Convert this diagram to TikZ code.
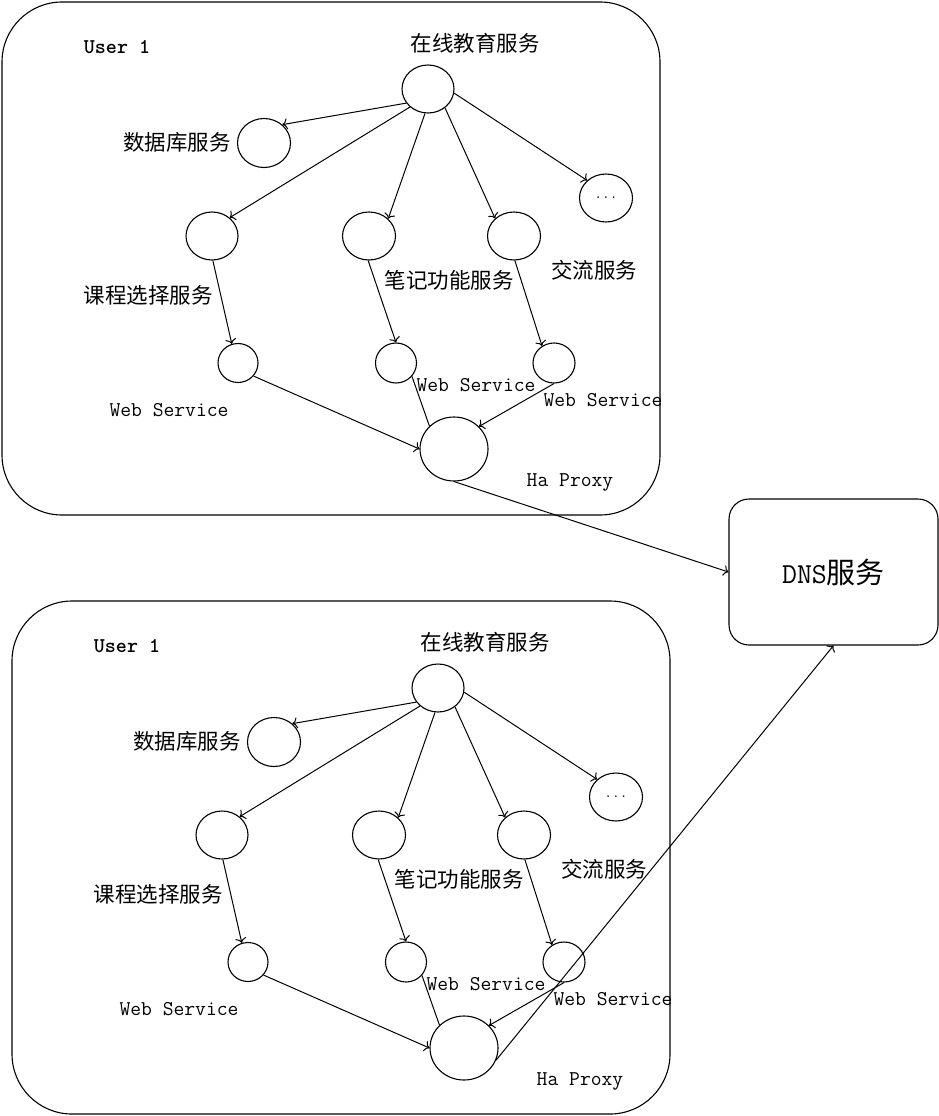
\documentclass[tikz,border=0pt]{standalone}
\usepackage{fontspec}
\newfontfamily\cjk{Noto Sans CJK SC}
\usetikzlibrary{shapes.geometric,arrows.meta}
\tikzset{
  ell/.style={draw, ellipse, inner sep=0pt, line width=1.1pt},
  grp/.style={draw, rectangle, rounded corners=60pt, inner sep=0pt, line width=1.1pt},
  zh/.style={inner sep=0pt, font=\cjk\fontsize{21.5}{23}\selectfont},
  en/.style={inner sep=0pt, font=\ttfamily\fontsize{21}{22}\selectfont},
  conn/.style={line width=1pt, -{To[length=5pt,width=11pt]}},
  plainline/.style={line width=1pt},
}
\newcommand\drawgroup[3]{%
\begin{scope}[shift={(#2,#3)}]
  \node[grp, minimum width=658pt, minimum height=513pt] (#1box) at (331,258.5) {};
  \node[en, font=\ttfamily\bfseries\fontsize{21}{22}\selectfont] (#1user) at (117,47) {User 1};
  \node[ell, minimum width=52pt, minimum height=48pt] (#1root) at (428,89) {};
  \node[ell, minimum width=53pt, minimum height=49pt] (#1db) at (264,143) {};
  \node[ell, minimum width=52pt, minimum height=48pt] (#1course) at (212,236) {};
  \node[ell, minimum width=53pt, minimum height=48pt] (#1note) at (369,236) {};
  \node[ell, minimum width=53pt, minimum height=48pt] (#1exch) at (514,236) {};
  \node[ell, minimum width=53pt, minimum height=48pt, font=\ttfamily\fontsize{15}{15}\selectfont] (#1dots) at (606,198) {...};
  \node[ell, minimum width=40pt, minimum height=39pt] (#1ws1) at (238,363) {};
  \node[ell, minimum width=41pt, minimum height=40pt] (#1ws2) at (396,363) {};
  \node[ell, minimum width=42pt, minimum height=40pt] (#1ws3) at (554,363) {};
  \node[ell, minimum width=68pt, minimum height=64pt] (#1hap) at (454,449) {};
  \node[zh] (#1lroot) at (475,43) {在线教育服务};
  \node[zh] (#1ldb) at (177,142) {数据库服务};
  \node[zh] (#1lcourse) at (148,295) {课程选择服务};
  \node[zh] (#1lnote) at (449,280) {笔记功能服务};
  \node[zh] (#1lexch) at (594,270) {交流服务};
  \node[en] (#1lws1) at (169,410) {Web Service};
  \node[en] (#1lws2) at (476,385) {Web Service};
  \node[en] (#1lws3) at (603,400) {Web Service};
  \node[en] (#1lhap) at (570,482) {Ha Proxy};
  \draw[conn] (#1root.213) -- (#1db.45);
  \draw[conn] (#1root.225) -- (#1course.46);
  \draw[conn] (#1root.263) -- (#1note.42);
  \draw[conn] (#1root.312) -- (#1exch.137);
  \draw[conn] (#1root.-9) -- (#1dots.137);
  \draw[conn] (#1course.272) -- (#1ws1.108);
  \draw[conn] (#1note.268) -- (#1ws2.90);
  \draw[conn] (#1exch.272) -- (#1ws3.125);
  \draw[conn] (#1ws1.-40) -- (#1hap.180);
  \draw[plainline] (#1ws2.-40) -- (#1hap.137);
  \draw[conn] (#1ws3.270) -- (#1hap.42);
\end{scope}}
\begin{document}
\begin{tikzpicture}[x=1pt,y=-1pt]
  \useasboundingbox (0,0) rectangle (939,1116);
  \drawgroup{A}{0}{0}
  \drawgroup{B}{10}{599}
  \node[draw, rectangle, rounded corners=20pt, line width=1.1pt, minimum width=209pt, minimum height=146pt, inner sep=0pt] (dns) at (833.5,572) {\ttfamily\fontsize{29}{31}\selectfont DNS\cjk 服务};
  \draw[conn] (Ahap.270) -- (dns.west);
  \draw[conn] (Bhap.-21) -- (dns.south);
\end{tikzpicture}
\end{document}
